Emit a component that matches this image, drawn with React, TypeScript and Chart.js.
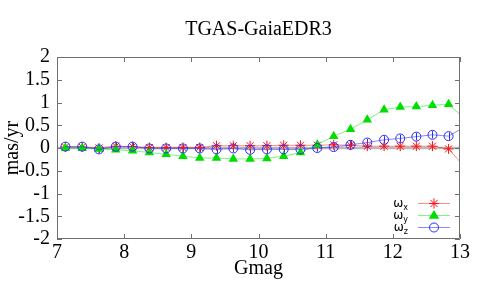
import React, { useEffect, useRef } from "react";
import { Chart, registerables } from "chart.js";

Chart.register(...registerables);

// ---- data ----
const gmag = [7.125, 7.375, 7.625, 7.875, 8.125, 8.375, 8.625, 8.875, 9.125, 9.375, 9.625, 9.875, 10.125, 10.375, 10.625, 10.875, 11.12, 11.37, 11.62, 11.87, 12.11, 12.35, 12.59, 12.83, 13.1];
const omegaX = [0.02, 0.02, 0.0, 0.04, 0.03, 0.01, 0.01, 0.01, 0.01, 0.05, 0.05, 0.05, 0.05, 0.06, 0.06, 0.06, 0.07, 0.06, 0.04, 0.04, 0.04, 0.04, 0.04, -0.02, -0.47];
const omegaY = [0.0, 0.0, -0.02, -0.04, -0.06, -0.1, -0.14, -0.18, -0.22, -0.22, -0.24, -0.24, -0.23, -0.18, -0.1, 0.07, 0.26, 0.41, 0.62, 0.84, 0.9, 0.91, 0.94, 0.96, 0.6];
const omegaZ = [0.03, 0.03, -0.03, 0.03, 0.03, -0.01, -0.01, -0.01, -0.01, -0.03, -0.01, -0.04, -0.03, -0.03, -0.03, 0.0, 0.02, 0.07, 0.12, 0.18, 0.21, 0.25, 0.29, 0.26, 0.49];
const omegaZErr = [0.08, 0.08, 0.08, 0.08, 0.08, 0.08, 0.08, 0.08, 0.08, 0.08, 0.08, 0.08, 0.08, 0.08, 0.08, 0.08, 0.08, 0.08, 0.08, 0.08, 0.08, 0.08, 0.08, 0.08, 0.08];
const xTicks = [7, 8, 9, 10, 11, 12, 13];
const yTicks = [-2, -1.5, -1, -0.5, 0, 0.5, 1, 1.5, 2];
const seriesBase = ["ω", "ω", "ω"];
const seriesSub = ["x", "y", "z"];
const titleText = "TGAS-GaiaEDR3";
const xTitle = "Gmag";
const yTitle = "mas/yr";

const SERIF = "'Liberation Serif', 'Times New Roman', serif";
const SANS = "'DejaVu Sans', 'Liberation Sans', sans-serif";

const RED_LINE = "rgba(255,0,0,0.45)";
const RED_PT = "#ff1010";
const GREEN_LINE = "rgba(0,230,0,0.5)";
const GREEN_PT = "#00dd00";
const BLUE_LINE = "rgba(40,40,255,0.55)";
const BLUE_PT = "#2a2aff";

const toPts = (ys: number[]) => gmag.map((x, i) => ({ x, y: ys[i] }));

function drawMarker(ctx: CanvasRenderingContext2D, kind: string, x: number, y: number) {
  ctx.save();
  if (kind === "star") {
    ctx.strokeStyle = RED_PT;
    ctx.lineWidth = 1;
    const r = 5;
    const d = r * Math.SQRT1_2;
    ctx.beginPath();
    ctx.moveTo(x - r, y); ctx.lineTo(x + r, y);
    ctx.moveTo(x, y - r); ctx.lineTo(x, y + r);
    ctx.moveTo(x - d, y - d); ctx.lineTo(x + d, y + d);
    ctx.moveTo(x - d, y + d); ctx.lineTo(x + d, y - d);
    ctx.stroke();
  } else if (kind === "triangle") {
    ctx.fillStyle = GREEN_PT;
    const r = 5.5;
    ctx.beginPath();
    ctx.moveTo(x, y - r);
    ctx.lineTo(x + r * 0.95, y + r * 0.6);
    ctx.lineTo(x - r * 0.95, y + r * 0.6);
    ctx.closePath();
    ctx.fill();
  } else {
    ctx.strokeStyle = BLUE_PT;
    ctx.lineWidth = 1;
    ctx.beginPath();
    ctx.arc(x, y, 4.5, 0, Math.PI * 2);
    ctx.stroke();
  }
  ctx.restore();
}

const framePlugin = {
  id: "frame",
  beforeDatasetsDraw(chart: any) {
    const { ctx, chartArea: a, scales } = chart;
    ctx.save();
    ctx.beginPath();
    ctx.rect(a.left, a.top, a.right - a.left, a.bottom - a.top);
    ctx.clip();
    ctx.strokeStyle = BLUE_PT;
    ctx.lineWidth = 1;
    ctx.beginPath();
    gmag.forEach((g, i) => {
      const px = Math.round(scales.x.getPixelForValue(g)) + 0.5;
      ctx.moveTo(px, scales.y.getPixelForValue(omegaZ[i] - omegaZErr[i]));
      ctx.lineTo(px, scales.y.getPixelForValue(omegaZ[i] + omegaZErr[i]));
    });
    ctx.stroke();
    ctx.restore();
  },
  afterDatasetsDraw(chart: any) {
    const { ctx, chartArea: a, scales } = chart;
    ctx.save();
    ctx.strokeStyle = "#707070";
    ctx.lineWidth = 1;
    const L = 5;
    ctx.beginPath();
    ctx.rect(a.left + 0.5, a.top + 0.5, a.right - a.left - 1, a.bottom - a.top - 1);
    for (const v of xTicks) {
      const px = Math.round(scales.x.getPixelForValue(v)) + 0.5;
      ctx.moveTo(px, a.bottom);
      ctx.lineTo(px, a.bottom - L);
      ctx.moveTo(px, a.top);
      ctx.lineTo(px, a.top + L);
    }
    for (const v of yTicks) {
      const py = Math.round(scales.y.getPixelForValue(v)) + 0.5;
      ctx.moveTo(a.left, py);
      ctx.lineTo(a.left + L, py);
      ctx.moveTo(a.right, py);
      ctx.lineTo(a.right - L, py);
    }
    ctx.stroke();

    // legend
    const kinds = ["star", "triangle", "circle"];
    const lineCols = [RED_LINE, GREEN_LINE, BLUE_LINE];
    const rowY = [203, 215, 227];
    const x0 = a.right - 42;
    const x1 = a.right - 10;
    for (let i = 0; i < 3; i++) {
      const y = rowY[i] + 0.5;
      ctx.strokeStyle = lineCols[i];
      ctx.lineWidth = 1;
      ctx.beginPath();
      ctx.moveTo(x0, y);
      ctx.lineTo(x1, y);
      ctx.stroke();
      drawMarker(ctx, kinds[i], (x0 + x1) / 2, y);
      ctx.fillStyle = "#000";
      ctx.textBaseline = "alphabetic";
      ctx.textAlign = "left";
      ctx.font = `8px ${SANS}`;
      const subW = ctx.measureText(seriesSub[i]).width;
      const subX = x0 - 10 - subW;
      ctx.fillText(seriesSub[i], subX, y + 6);
      ctx.font = `12px ${SANS}`;
      ctx.textAlign = "right";
      ctx.fillText(seriesBase[i], subX, y + 3);
    }
    ctx.restore();
  },
};

export default function App() {
  const ref = useRef<HTMLCanvasElement | null>(null);
  useEffect(() => {
    document.body.style.margin = "0";
    const canvas = ref.current;
    if (!canvas) return;
    const chart = new Chart(canvas, {
      type: "line",
      data: {
        datasets: [
          {
            label: "zero",
            data: [{ x: 7, y: 0 }, { x: 13, y: 0 }],
            borderColor: "#b8b8b8",
            borderWidth: 2.5,
            pointRadius: 0,
            order: 10,
          },
          {
            label: "ωx",
            data: toPts(omegaX),
            borderColor: RED_LINE,
            borderWidth: 1,
            pointStyle: "star",
            pointRadius: 5,
            pointBorderColor: RED_PT,
            pointBackgroundColor: RED_PT,
            pointBorderWidth: 1,
            order: 3,
          },
          {
            label: "ωy",
            data: toPts(omegaY),
            borderColor: GREEN_LINE,
            borderWidth: 1,
            pointStyle: "triangle",
            pointRadius: 5.5,
            pointBorderColor: GREEN_PT,
            pointBackgroundColor: GREEN_PT,
            pointBorderWidth: 0,
            order: 2,
          },
          {
            label: "ωz",
            data: toPts(omegaZ),
            borderColor: BLUE_LINE,
            borderWidth: 1,
            pointStyle: "circle",
            pointRadius: 4.5,
            pointBorderColor: BLUE_PT,
            pointBackgroundColor: "rgba(0,0,0,0)",
            pointBorderWidth: 1,
            order: 1,
          },
        ],
      },
      options: {
        animation: false,
        responsive: false,
        events: [],
        layout: { padding: { left: 0, right: 20, top: 0, bottom: 0 } },
        plugins: {
          legend: { display: false },
          tooltip: { enabled: false },
          title: {
            display: true,
            fullSize: false,
            text: titleText,
            color: "#000",
            font: { family: SERIF, size: 20, weight: "normal" },
            padding: { top: 18, bottom: 15 },
          },
        },
        scales: {
          x: {
            type: "linear",
            min: 7,
            max: 13,
            grid: { display: false, drawTicks: false },
            border: { display: false },
            afterBuildTicks: (s: any) => {
              s.ticks = xTicks.map((v) => ({ value: v }));
            },
            afterFit: (s: any) => {
              s.height = 49;
            },
            ticks: {
              color: "#000",
              padding: 2,
              maxRotation: 0,
              autoSkip: false,
              font: { family: SERIF, size: 20 },
            },
            title: {
              display: true,
              text: xTitle,
              color: "#000",
              font: { family: SERIF, size: 20 },
              padding: { top: 0, bottom: 7 },
            },
          },
          y: {
            type: "linear",
            min: -2,
            max: 2,
            grid: { display: false, drawTicks: false },
            border: { display: false },
            afterBuildTicks: (s: any) => {
              s.ticks = yTicks.map((v) => ({ value: v }));
            },
            afterFit: (s: any) => {
              s.width = 57;
            },
            ticks: {
              color: "#000",
              padding: 7,
              autoSkip: false,
              font: { family: SERIF, size: 20 },
              callback: (v: any) => String(v),
            },
            title: {
              display: true,
              text: yTitle,
              color: "#000",
              font: { family: SERIF, size: 20 },
              padding: { top: 1, bottom: 0 },
            },
          },
        },
      },
      plugins: [framePlugin],
    } as any);
    return () => chart.destroy();
  }, []);
  return (
    <div style={{ position: "absolute", left: 0, top: 0, width: 480, height: 288 }}>
      <canvas ref={ref} width={480} height={288} />
    </div>
  );
}
